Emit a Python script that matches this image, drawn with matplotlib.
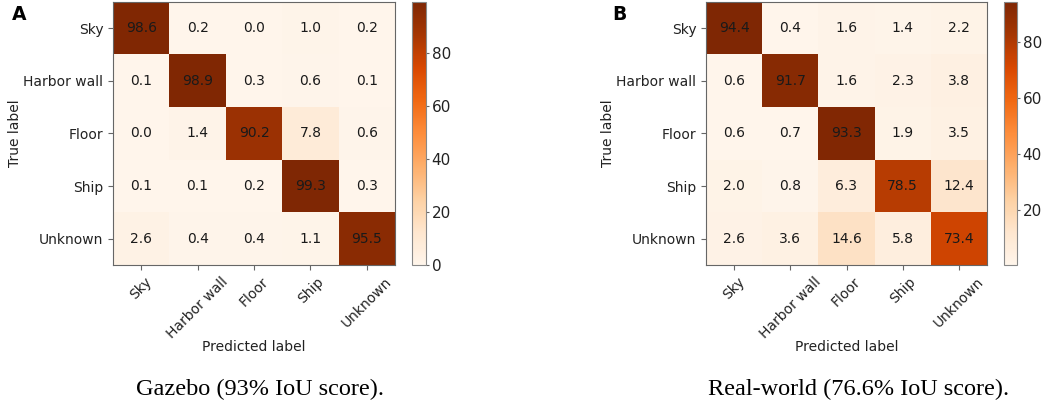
import numpy as np
import matplotlib
matplotlib.use("Agg")
import matplotlib.pyplot as plt

plt.rcParams['font.family'] = ['DejaVu Sans']

classes = ["Sky", "Harbor wall", "Floor", "Ship", "Unknown"]
gazebo = np.array([
    [98.6, 0.2, 0.0, 1.0, 0.2],
    [0.1, 98.9, 0.3, 0.6, 0.1],
    [0.0, 1.4, 90.2, 7.8, 0.6],
    [0.1, 0.1, 0.2, 99.3, 0.3],
    [2.6, 0.4, 0.4, 1.1, 95.5],
])
realworld = np.array([
    [94.4, 0.4, 1.6, 1.4, 2.2],
    [0.6, 91.7, 1.6, 2.3, 3.8],
    [0.6, 0.7, 93.3, 1.9, 3.5],
    [2.0, 0.8, 6.3, 78.5, 12.4],
    [2.6, 3.6, 14.6, 5.8, 73.4],
])
captions = ["Gazebo (93% IoU score).", "Real-world (76.6% IoU score)."]
letters = ["A", "B"]

W, H = 1045, 405
fig = plt.figure(figsize=(W / 100, H / 100), dpi=100)

def px(l, t, w, h):
    return [l / W, 1 - (t + h) / H, w / W, h / H]

panels = [
    (gazebo, px(113, 2, 282, 263), px(412, 2, 14, 263), 12, 260),
    (realworld, px(706, 2, 281, 263), px(1004, 2, 13, 263), 612, 859),
]

for i, (mat, axr, cbr, lx, cx) in enumerate(panels):
    ax = fig.add_axes(axr)
    im = ax.imshow(mat, cmap="Oranges", aspect="auto")
    for r in range(mat.shape[0]):
        for c in range(mat.shape[1]):
            ax.text(c, r, f"{mat[r, c]:.1f}", ha="center", va="center",
                    fontsize=10, color="#1a1a1a")
    ax.set_xticks(range(len(classes)))
    ax.set_yticks(range(len(classes)))
    ax.set_xticklabels(classes, rotation=45, ha="center", fontsize=10)
    ax.set_yticklabels(classes, fontsize=10)
    ax.set_xlabel("Predicted label", fontsize=10, color="#222222")
    ax.set_ylabel("True label", fontsize=10, color="#222222")
    ax.xaxis.label.set_va("center")
    ax.yaxis.label.set_va("center")
    ax.xaxis.set_label_coords(0.5, -0.312)
    ax.yaxis.set_label_coords(-0.348, 0.5)
    for s in ax.spines.values():
        s.set_color("#666666")
    ax.tick_params(colors="#666666", labelcolor="#222222")
    cax = fig.add_axes(cbr)
    cb = fig.colorbar(im, cax=cax)
    cb.outline.set_edgecolor("#888888")
    cb.set_ticks([t for t in [0, 20, 40, 60, 80] if mat.min() <= t <= mat.max()])
    cax.tick_params(labelsize=11, length=2.5, pad=1.5,
                    colors="#666666", labelcolor="#222222")
    fig.text(lx / W, 1 - 14 / H, letters[i], fontsize=13.5, fontweight="bold",
             ha="left", va="center")
    fig.text(cx / W, 1 - 389 / H, captions[i], fontsize=17.5,
             family="Liberation Serif", ha="center", va="center")

fig.savefig("out.png", dpi=100)
